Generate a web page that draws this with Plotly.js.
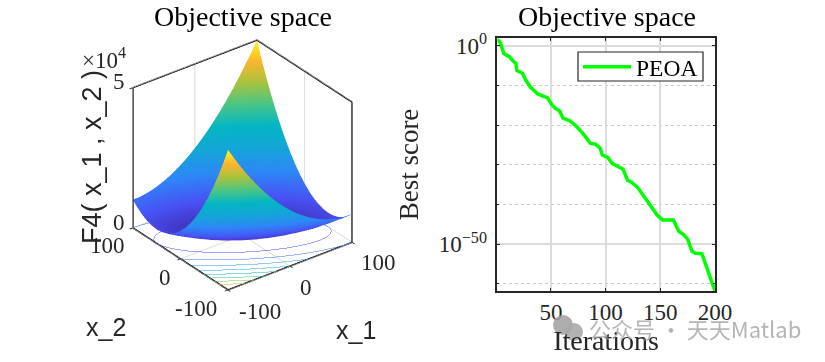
<!DOCTYPE html>
<html><head><meta charset="utf-8">
<script src="https://cdn.plot.ly/plotly-3.0.1.min.js"></script>
<style>html,body{margin:0;padding:0;background:#fff}#c{width:825px;height:362px}</style></head>
<body><div id="c"></div>
<script>
const gridX = [-100,-90,-80,-70,-60,-50,-40,-30,-20,-10,0,10,20,30,40,50,60,70,80,90,100];
const gridY = [-100,-90,-80,-70,-60,-50,-40,-30,-20,-10,0,10,20,30,40,50,60,70,80,90,100];
// surface heights, in hundreds; one inner list per x value, running along y
const surfaceByX = [
[500,442,388,338,292,250,212,178,148,122,100,82,68,58,52,50,52,58,68,82,100],
[461,405,353,305,261,221,185,153,125,101,81,65,53,45,41,41,45,53,65,81,101],
[424,370,320,274,232,194,160,130,104,82,64,50,40,34,32,34,40,50,64,82,104],
[389,337,289,245,205,169,137,109,85,65,49,37,29,25,25,29,37,49,65,85,109],
[356,306,260,218,180,146,116,90,68,50,36,26,20,18,20,26,36,50,68,90,116],
[325,277,233,193,157,125,97,73,53,37,25,17,13,13,17,25,37,53,73,97,125],
[296,250,208,170,136,106,80,58,40,26,16,10,8,10,16,26,40,58,80,106,136],
[269,225,185,149,117,89,65,45,29,17,9,5,5,9,17,29,45,65,89,117,149],
[244,202,164,130,100,74,52,34,20,10,4,2,4,10,20,34,52,74,100,130,164],
[221,181,145,113,85,61,41,25,13,5,1,1,5,13,25,41,61,85,113,145,181],
[200,162,128,98,72,50,32,18,8,2,0,2,8,18,32,50,72,98,128,162,200],
[181,145,113,85,61,41,25,13,5,1,1,5,13,25,41,61,85,113,145,181,221],
[164,130,100,74,52,34,20,10,4,2,4,10,20,34,52,74,100,130,164,202,244],
[149,117,89,65,45,29,17,9,5,5,9,17,29,45,65,89,117,149,185,225,269],
[136,106,80,58,40,26,16,10,8,10,16,26,40,58,80,106,136,170,208,250,296],
[125,97,73,53,37,25,17,13,13,17,25,37,53,73,97,125,157,193,233,277,325],
[116,90,68,50,36,26,20,18,20,26,36,50,68,90,116,146,180,218,260,306,356],
[109,85,65,49,37,29,25,25,29,37,49,65,85,109,137,169,205,245,289,337,389],
[104,82,64,50,40,34,32,34,40,50,64,82,104,130,160,194,232,274,320,370,424],
[101,81,65,53,45,41,41,45,53,65,81,101,125,153,185,221,261,305,353,405,461],
[100,82,68,58,52,50,52,58,68,82,100,122,148,178,212,250,292,338,388,442,500]
];
const surfaceZ = surfaceByX[0].map((_,j)=>surfaceByX.map(row=>row[j]));
const iterations = [1,4,7,12,15,18,19,24,27,31,38,44,47,51,54,58,61,67,73,79,86,91,95,97,102,106,112,116,120,124,129,140,147,152,162,167,171,175,179,182,188,199,200];
const bestScoreExp = [1.7,0.7,-1.9,-2.7,-3.7,-4.4,-6.2,-6.9,-8.6,-10.3,-12.1,-12.9,-13.1,-14.9,-15.7,-16.4,-18.2,-18.8,-20.2,-22,-24.5,-24.8,-25.8,-27.5,-28.1,-29.6,-30.4,-31.1,-33.8,-34.4,-35.6,-39.7,-42.6,-43.9,-43.9,-46.8,-47.5,-48.7,-51.8,-52.3,-52.4,-61,-61.7];
const xTicks = [50,100,150,200];
const yTickExp = [0,-50];
const yTickText = ['10<sup>0</sup>','10<sup>−50</sup>'];
const yMinorExp = [-10,-20,-30,-40,-60];
const seriesName = 'PEOA';
const parula = [[0,'#3e26a8'],[0.125,'#4852f4'],[0.25,'#2e87f7'],[0.375,'#14a5d8'],[0.5,'#04b6c4'],[0.625,'#48c587'],[0.75,'#a6c33e'],[0.875,'#fcb52f'],[1,'#f9fb15']];

const serif = 'Liberation Serif, serif';
const sans = 'Liberation Sans, sans-serif';
const ink = '#262626';
const axis3d = {
  showbackground:false, showspikes:false, zeroline:false, showline:false,
  showgrid:true, gridcolor:'#d8d8d8', gridwidth:2,
  ticks:'outside', ticklen:4, tickcolor:ink, tickwidth:2,
  showticklabels:false, title:{text:''}
};
const d = 1.5;
const frameX=[-100,-100,null,100,100,null,-100,100,100,null,-100,-100,100];
const frameY=[100,100,null,-100,-100,null,100,100,-100,null,100,-100,-100];
const frameZ=[0,500,null,0,500,null,500,500,500,null,0,0,0];
function contourLayer(){
  return {type:'surface',x:gridX,y:gridY,z:surfaceZ,colorscale:parula,cmin:0,cmax:500,showscale:false,hoverinfo:'skip',opacity:0,
    contours:{z:{show:true,start:50,end:450,size:50,usecolormap:true,width:2,project:{z:true},highlight:false},
              x:{highlight:false},y:{highlight:false}}};
}
const traces = [
 {type:'surface',x:gridX,y:gridY,z:surfaceZ,colorscale:parula,cmin:0,cmax:500,showscale:false,hoverinfo:'skip',
  lighting:{ambient:1,diffuse:0,specular:0,roughness:1,fresnel:0}},
 contourLayer(),contourLayer(),contourLayer(),contourLayer(),contourLayer(),contourLayer(),
 {type:'scatter3d',mode:'lines',x:frameX,y:frameY,z:frameZ,line:{color:'#000',width:3},showlegend:false,hoverinfo:'skip'},
 {type:'scatter',mode:'lines',x:iterations,y:bestScoreExp.map(v=>Math.pow(10,v)),name:seriesName,
  line:{color:'#00ff00',width:3.5},cliponaxis:false,xaxis:'x',yaxis:'y',hoverinfo:'skip'}
];
function note(text,x,y,font,size,extra){
  return Object.assign({text:text,xref:'paper',yref:'paper',x:x/825,y:1-y/362,xanchor:'center',yanchor:'middle',showarrow:false,
    font:{family:font,size:size,color:ink}},extra||{});
}
const tickSize=23;
const layout = {
 width:825,height:362,margin:{l:0,r:0,t:0,b:0},paper_bgcolor:'#fff',plot_bgcolor:'#fff',
 scene:{domain:{x:[77/825,408/825],y:[1-330/362,1]},
  camera:{projection:{type:'orthographic'},center:{x:0,y:0,z:0},up:{x:0,y:0,z:1},
          eye:{x:-0.527*d,y:-0.687*d,z:0.5*d}},
  aspectmode:'manual',aspectratio:{x:0.948,y:0.948,z:0.981},
  xaxis:Object.assign({},axis3d,{range:[-100,100],tickvals:[-100,0,100]}),
  yaxis:Object.assign({},axis3d,{range:[-100,100],tickvals:[-100,0,100]}),
  zaxis:Object.assign({},axis3d,{range:[0,500],tickvals:[0,500]})
 },
 xaxis:{domain:[497.3/825,715/825],anchor:'y',range:[1,200],tickvals:xTicks,ticks:'inside',ticklen:3,tickcolor:ink,tickwidth:1,
   showline:true,mirror:'allticks',linecolor:ink,linewidth:1.5,showgrid:true,gridcolor:'#dcdcdc',gridwidth:1.5,zeroline:false,
   tickfont:{family:serif,size:tickSize,color:ink},title:{text:'Iterations',font:{family:serif,size:28,color:ink},standoff:6}},
 yaxis:{domain:[1-291/362,1-38/362],anchor:'x',type:'log',range:[-61.8,2],
   tickvals:yTickExp.map(v=>Math.pow(10,v)),ticktext:yTickText,ticks:'inside',ticklen:3,tickcolor:ink,tickwidth:1,
   ticklabelstandoff:4,
   showline:true,mirror:'allticks',linecolor:ink,linewidth:1.5,showgrid:true,gridcolor:'#dcdcdc',gridwidth:1.5,zeroline:false,
   tickfont:{family:serif,size:tickSize,color:ink},title:{text:'Best score',font:{family:serif,size:27,color:ink},standoff:12},
   minor:{tickvals:yMinorExp.map(v=>Math.pow(10,v)),showgrid:true,griddash:'dot',gridcolor:'#c8c8c8',gridwidth:1,ticks:'inside',ticklen:2,tickcolor:ink}},
 showlegend:true,
 legend:{x:578/825,xanchor:'left',y:1-67/362,yanchor:'middle',bgcolor:'rgba(0,0,0,0)',borderwidth:0,
   font:{family:serif,size:23.5,color:'#000'},itemwidth:48},
 annotations:[
  note('Objective space',243,16,serif,28,{font:{family:serif,size:28,color:'#000'}}),
  note('Objective space',607,16,serif,28,{font:{family:serif,size:28,color:'#000'}}),
  note('×10<sup>4</sup>',104,58,serif,23),
  note('F4( x_1 , x_2 )',92,157,sans,27,{textangle:-90}),
  note('x_1',356,330,sans,25),
  note('x_2',106,327,sans,25),
  note('5',119,81,serif,tickSize),
  note('0',119,222,serif,tickSize),
  note('100',107,245,serif,tickSize),
  note('0',165,277,serif,tickSize),
  note('-100',196,308,serif,tickSize),
  note('-100',260,311,serif,tickSize),
  note('0',306,287,serif,tickSize),
  note('100',378,262,serif,tickSize),
  note('公众号 · 天天Matlab',695,328,'Noto Sans CJK SC',22,{font:{family:'Noto Sans CJK SC',size:22,color:'rgba(150,150,150,0.7)'}})
 ],
 shapes:[
  {type:'rect',xref:'paper',yref:'paper',x0:578/825,x1:703/825,y0:1-81/362,y1:1-52/362,fillcolor:'#fff',line:{color:ink,width:1.2},layer:'above'},
  {type:'circle',xref:'paper',yref:'paper',x0:553/825,x1:573/825,y0:1-335/362,y1:1-315/362,fillcolor:'rgba(160,160,160,0.85)',line:{width:0}},
  {type:'circle',xref:'paper',yref:'paper',x0:565/825,x1:583/825,y0:1-341/362,y1:1-323/362,fillcolor:'rgba(170,170,170,0.9)',line:{width:0}}
 ]
};
Plotly.newPlot('c',traces,layout,{displayModeBar:false});
</script></body></html>
